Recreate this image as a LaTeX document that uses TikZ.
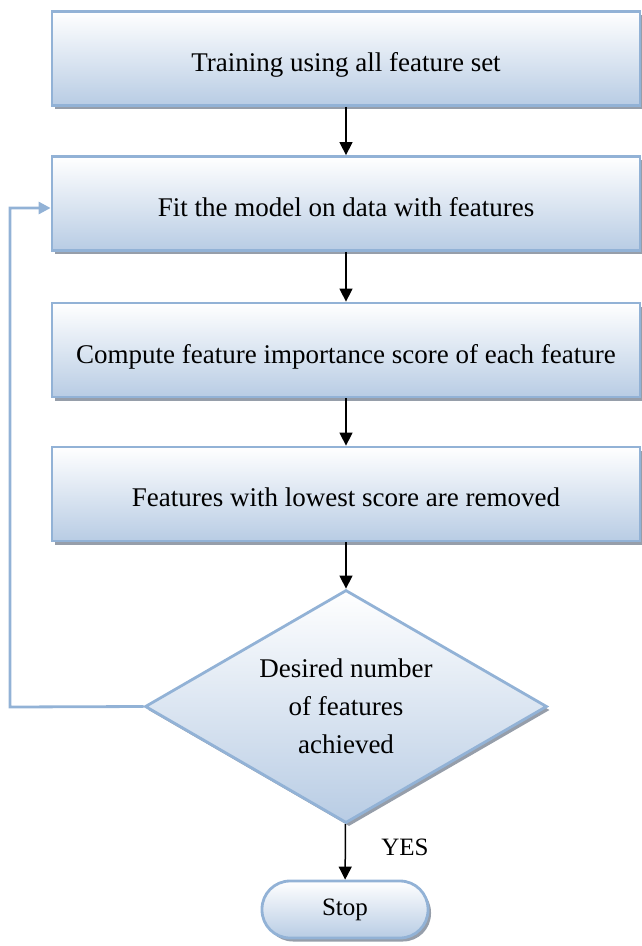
\documentclass[tikz,border=0pt]{standalone}
\usepackage{fontspec}
\setmainfont{Liberation Serif}
\usetikzlibrary{shapes.geometric,shadows,arrows.meta}
\definecolor{bordc}{RGB}{146,178,214}
\definecolor{fillbot}{RGB}{184,204,228}
\definecolor{shadc}{RGB}{150,158,170}
\tikzset{
  procbox/.style={rectangle, draw=bordc, line width=2.8pt, top color=white, bottom color=fillbot,
    minimum width=588pt, minimum height=94pt, inner sep=0pt, text depth=0pt,
    font=\fontsize{27}{38}\selectfont,
    drop shadow={shadow xshift=3pt, shadow yshift=-3.5pt, fill=shadc, opacity=1}},
  decbox/.style={diamond, draw=bordc, line width=2.8pt, top color=white, bottom color=fillbot,
    minimum width=402pt, minimum height=233pt, aspect=1.725, inner sep=0pt, align=center,
    font=\fontsize{27}{38}\selectfont,
    drop shadow={shadow xshift=3pt, shadow yshift=-3.5pt, fill=shadc, opacity=1}},
  termbox/.style={rectangle, rounded corners=28pt, draw=bordc, line width=2.8pt, top color=white, bottom color=fillbot,
    minimum width=166pt, minimum height=57pt, inner sep=0pt,
    font=\fontsize{25}{28}\selectfont,
    drop shadow={shadow xshift=3pt, shadow yshift=-3.5pt, fill=shadc, opacity=1}},
  flow/.style={draw=black, line width=1.5pt, -{Triangle[width=13pt,length=13pt]}},
  back/.style={draw=bordc, line width=2.8pt, -{Triangle[width=12pt,length=12pt]}},
  lbl/.style={font=\fontsize{25}{28}\selectfont, inner sep=0pt}
}
\begin{document}
\begin{tikzpicture}[x=1pt,y=-1pt]
\useasboundingbox (0,0) rectangle (642,946);
\node[procbox] (b1) at (346,58.5) {\raisebox{-7pt}{Training using all feature set}};
\node[procbox] (b2) at (346,203.5) {\raisebox{-7pt}{Fit the model on data with features}};
\node[procbox] (b3) at (346,350) {\raisebox{-7pt}{Compute feature importance score of each feature}};
\node[procbox] (b4) at (346,494) {\raisebox{-7pt}{Features with lowest score are removed}};
\node[decbox] (d) at (346,706.5) {Desired number\\of features\\achieved};
\node[termbox] (stop) at (345,909.5) {Stop};
\node[lbl] (yes) at (405,847) {YES};
\coordinate (fb) at (10,707);
\draw[flow] (b1) -- (b2);
\draw[flow] (b2) -- (b3);
\draw[flow] (b3) -- (b4);
\draw[flow] (b4) -- (d);
\draw[flow] (d) -- (stop);
\draw[back] (d.west) -- (fb) |- ([yshift=-4.5pt]b2.west);
\end{tikzpicture}
\end{document}
